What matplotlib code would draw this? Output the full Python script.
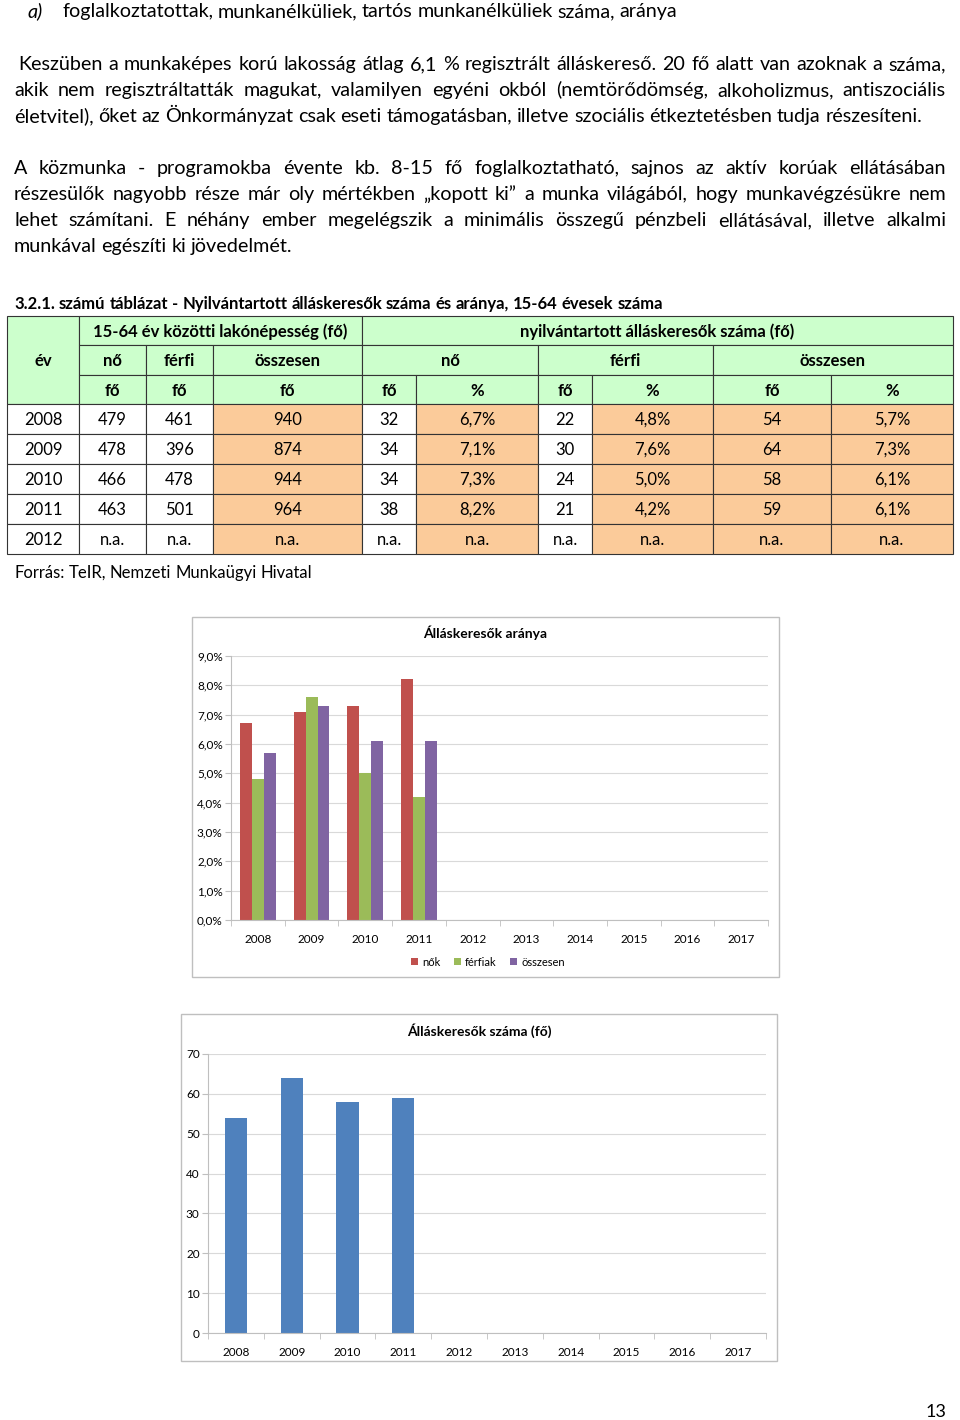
import matplotlib
matplotlib.use("Agg")
import matplotlib.pyplot as plt
from matplotlib.patches import Rectangle
from matplotlib.ticker import FuncFormatter, MultipleLocator
import numpy as np

# ---- data ----
years = ["2008", "2009", "2010", "2011", "2012"]
pop_no = ["479", "478", "466", "463", "n.a."]
pop_ferfi = ["461", "396", "478", "501", "n.a."]
pop_ossz = ["940", "874", "944", "964", "n.a."]
reg_no_fo = ["32", "34", "34", "38", "n.a."]
reg_no_pct = ["6,7%", "7,1%", "7,3%", "8,2%", "n.a."]
reg_ferfi_fo = ["22", "30", "24", "21", "n.a."]
reg_ferfi_pct = ["4,8%", "7,6%", "5,0%", "4,2%", "n.a."]
reg_ossz_fo = ["54", "64", "58", "59", "n.a."]
reg_ossz_pct = ["5,7%", "7,3%", "6,1%", "6,1%", "n.a."]

chart_years = ["2008", "2009", "2010", "2011", "2012", "2013", "2014", "2015", "2016", "2017"]
arany_nok = [6.7, 7.1, 7.3, 8.2]
arany_ferfiak = [4.8, 7.6, 5.0, 4.2]
arany_osszesen = [5.7, 7.3, 6.1, 6.1]
szam_osszesen = [54, 64, 58, 59]

heading = "foglalkoztatottak, munkanélküliek, tartós munkanélküliek száma, aránya"
para1 = [
    "Keszüben a munkaképes korú lakosság átlag 6,1 % regisztrált álláskereső. 20 fő alatt van azoknak a száma,",
    "akik nem regisztráltatták magukat, valamilyen egyéni okból (nemtörődömség, alkoholizmus, antiszociális",
    "életvitel), őket az Önkormányzat csak eseti támogatásban, illetve szociális étkeztetésben tudja részesíteni.",
]
para2 = [
    "A közmunka - programokba évente kb. 8-15 fő foglalkoztatható, sajnos az aktív korúak ellátásában",
    "részesülők nagyobb része már oly mértékben „kopott ki” a munka világából, hogy munkavégzésükre nem",
    "lehet számítani. E néhány ember megelégszik a minimális összegű pénzbeli ellátásával, illetve alkalmi",
    "munkával egészíti ki jövedelmét.",
]
caption = "3.2.1. számú táblázat - Nyilvántartott álláskeresők száma és aránya, 15-64 évesek száma"
source = "Forrás: TeIR, Nemzeti Munkaügyi Hivatal"

W, H = 960, 1420
FONT = "Lato"
GREEN = "#CCFFCC"
ORANGE = "#FBCB9A"
RED, LGREEN, PURPLE, BLUE = "#C0504D", "#9BBB59", "#8064A2", "#4F81BD"

fig = plt.figure(figsize=(W / 100, H / 100), dpi=100)
fig.patch.set_facecolor("white")
renderer = fig.canvas.get_renderer()


def px(x, y):
    return x / W, 1 - y / H


def put_line(s, x0, x1, y, size, **kw):
    # justified line from x0 to x1; x1=None keeps natural spacing
    words = s.split(" ")
    arts = [fig.text(0, 0, w, fontsize=size, family=FONT, ha="left",
                     va="baseline", **kw) for w in words]
    widths = [a.get_window_extent(renderer).width for a in arts]
    space = 0.24 * size * 100 / 72
    gap = space
    if x1 is not None and len(words) > 1:
        gap = max((x1 - x0 - sum(widths)) / (len(words) - 1), space)
    x = x0
    for a, w in zip(arts, widths):
        a.set_position(px(x, y))
        x += w + gap


BODY = 14.2
fig.text(*px(28, 17), "a)", fontsize=BODY, family=FONT, style="italic", va="baseline")
put_line(heading, 62, None, 17, BODY)

for i, line in enumerate(para1):
    x0 = 18 if i == 0 else 14
    x1 = [946, 946, None][i]
    put_line(line, x0, x1, 70 + 26 * i, BODY)

for i, line in enumerate(para2):
    x1 = [946, 946, 946, None][i]
    put_line(line, 14, x1, 174 + 26 * i, BODY)

put_line(caption, 14, None, 309, 12, weight="bold")
put_line(source, 14, None, 578, 12)

# ---- table ----
cols = [7, 79, 146, 213, 362, 416, 538, 592, 713, 831, 953]
rows = [316, 345, 375, 404, 434, 464, 494, 524, 554]
TS = 12


def cell(c0, c1, r0, r1, text, color, bold=False):
    x0, x1 = cols[c0], cols[c1]
    y0, y1 = rows[r0], rows[r1]
    fig.patches.append(Rectangle(px(x0, y1), (x1 - x0) / W, (y1 - y0) / H,
                                 transform=fig.transFigure, facecolor=color,
                                 edgecolor="#333333", linewidth=0.8))
    fig.text(*px((x0 + x1) / 2, (y0 + y1) / 2 + 6), text, fontsize=TS, family=FONT,
             ha="center", va="baseline", weight="bold" if bold else "normal")


cell(0, 1, 0, 3, "év", GREEN, True)
cell(1, 4, 0, 1, "15-64 év közötti lakónépesség (fő)", GREEN, True)
cell(4, 10, 0, 1, "nyilvántartott álláskeresők száma (fő)", GREEN, True)
for c0, c1, t in [(1, 2, "nő"), (2, 3, "férfi"), (3, 4, "összesen"),
                  (4, 6, "nő"), (6, 8, "férfi"), (8, 10, "összesen")]:
    cell(c0, c1, 1, 2, t, GREEN, True)
for c, t in enumerate(["fő", "fő", "fő", "fő", "%", "fő", "%", "fő", "%"]):
    cell(c + 1, c + 2, 2, 3, t, GREEN, True)

columns = [years, pop_no, pop_ferfi, pop_ossz, reg_no_fo, reg_no_pct,
           reg_ferfi_fo, reg_ferfi_pct, reg_ossz_fo, reg_ossz_pct]
col_colors = ["white", "white", "white", ORANGE, "white", ORANGE,
              "white", ORANGE, ORANGE, ORANGE]
for c, (vals, colr) in enumerate(zip(columns, col_colors)):
    for r, v in enumerate(vals):
        cell(c, c + 1, 3 + r, 4 + r, v, colr)


# ---- charts ----
def frame(x0, y0, x1, y1):
    fig.patches.append(Rectangle(px(x0, y1), (x1 - x0) / W, (y1 - y0) / H,
                                 transform=fig.transFigure, facecolor="none",
                                 edgecolor="#BFBFBF", linewidth=1))


def style_axes(ax):
    for s in ["top", "right"]:
        ax.spines[s].set_visible(False)
    for s in ["left", "bottom"]:
        ax.spines[s].set_color("#BFBFBF")
    ax.set_axisbelow(True)
    ax.grid(axis="y", color="#D9D9D9", linewidth=0.8)
    ax.set_xlim(-0.5, len(chart_years) - 0.5)
    ax.set_xticks(range(len(chart_years)))
    ax.set_xticklabels(chart_years, fontsize=8.5, family=FONT)
    ax.set_xticks(np.arange(-0.5, len(chart_years)), minor=True)
    ax.tick_params(axis="x", which="major", length=0, pad=10)
    ax.tick_params(axis="x", which="minor", length=4, color="#BFBFBF")
    ax.tick_params(axis="y", length=4, color="#BFBFBF", labelsize=8.5, pad=2)
    for lab in ax.get_yticklabels():
        lab.set_family(FONT)


frame(192, 617, 779, 977)
ax1 = fig.add_axes([231 / W, 1 - 920 / H, (768 - 231) / W, (920 - 656) / H])
x = np.arange(len(arany_nok))
bw = 1 / 4.5
ax1.bar(x - bw, arany_nok, bw, color=RED, label="nők")
ax1.bar(x, arany_ferfiak, bw, color=LGREEN, label="férfiak")
ax1.bar(x + bw, arany_osszesen, bw, color=PURPLE, label="összesen")
ax1.set_ylim(0, 9)
ax1.yaxis.set_major_locator(MultipleLocator(1))
ax1.yaxis.set_major_formatter(FuncFormatter(lambda v, p: f"{v:.1f}%".replace(".", ",")))
style_axes(ax1)
fig.text(*px(485, 633), "Álláskeresők aránya", fontsize=10, family=FONT,
         weight="bold", ha="center", va="center")
fig.legend(*ax1.get_legend_handles_labels(), loc="center",
           bbox_to_anchor=px(488, 962), ncol=3, frameon=False,
           prop={"family": FONT, "size": 8}, handlelength=0.6, handleheight=0.6,
           handletextpad=0.4, columnspacing=1.2)

frame(181, 1014, 777, 1361)
ax2 = fig.add_axes([208 / W, 1 - 1333 / H, (766 - 208) / W, (1333 - 1054) / H])
ax2.bar(np.arange(len(szam_osszesen)), szam_osszesen, 0.4, color=BLUE)
ax2.set_ylim(0, 70)
ax2.yaxis.set_major_locator(MultipleLocator(10))
style_axes(ax2)
fig.text(*px(479, 1031), "Álláskeresők száma (fő)", fontsize=10, family=FONT,
         weight="bold", ha="center", va="center")

fig.text(*px(936, 1412), "13", fontsize=13, family=FONT, ha="center", va="center")

fig.savefig("out.png", dpi=100, facecolor="white")
